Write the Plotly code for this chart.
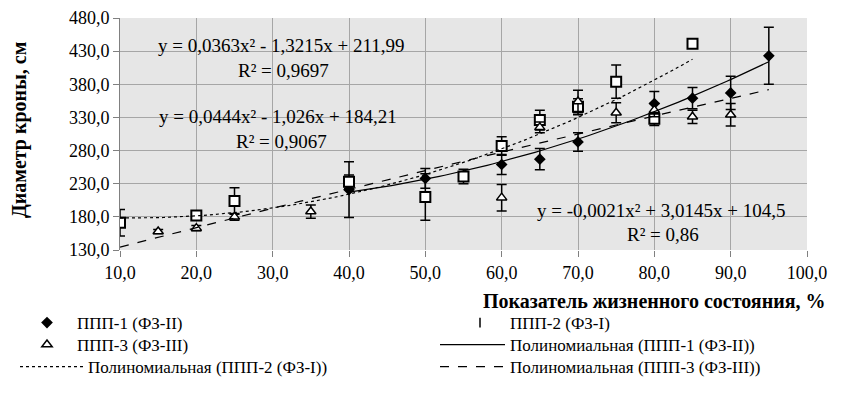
import numpy as np
import plotly.graph_objects as go

# ППП-1 (ФЗ-II) – diamonds
x1 = [40, 50, 60, 65, 70, 80, 85, 90, 95]
y1 = [221, 238, 259, 267, 293, 351, 359, 367, 423]
e1 = [42, 15, 15, 16, 14, 18, 16, 25, 43]

# ППП-2 (ФЗ-I) – squares
x2 = [10, 20, 25, 40, 50, 55, 60, 65, 70, 75, 80, 85]
y2 = [171, 182, 204, 233, 210, 241, 287, 326, 346, 384, 328, 441]
e2 = [20, 6, 20, 10, 35, 11, 14, 15, 12, 25, 10, 5]

# ППП-3 (ФЗ-III) – triangles
x3 = [15, 20, 25, 35, 60, 65, 70, 75, 80, 85, 90]
y3 = [158, 163, 180, 188, 209, 315, 354, 337, 341, 331, 334]
e3 = [3, 4, 5, 10, 20, 8, 17, 15, 10, 10, 17]

# trend-line coefficients as printed on the chart (a, b, c) and x-ranges
coef1 = [0.0363, -1.3215, 211.99]
coef2 = [0.0444, -1.026, 184.21]
coef3 = [-0.0021, 3.0145, 104.5]
range1 = [40, 95]
range2 = [10, 85]
range3 = [10, 95]

eq_texts = ["y = 0,0363x² - 1,3215x + 211,99", "R² = 0,9697",
            "y = 0,0444x² - 1,026x + 184,21", "R² = 0,9067",
            "y = -0,0021x² + 3,0145x + 104,5", "R² = 0,86"]

FONT = "Liberation Serif"

# page has an 8px body margin; figure sized to fit the 842x401 window
OFF = 8
W, H = 826, 385
PL, PT, PR, PB = 120, 18, 807, 250          # plot area in page pixels
L, T = PL - OFF, PT - OFF
R, B = W - (PR - OFF), H - (PB - OFF)
PW, PH = W - L - R, H - T - B

def page2paper(px, py):
    return (px - OFF - L) / PW, (H - B - (py - OFF)) / PH

def trend(coef, rng):
    xs = np.linspace(rng[0], rng[1], 80)
    return xs, np.polyval(coef, xs)

fig = go.Figure()

err = lambda e: dict(type="data", array=e, visible=True, color="black",
                     thickness=1.5, width=5)

fig.add_trace(go.Scatter(x=x1, y=y1, mode="markers", name="ППП-1 (ФЗ-II)", legend="legend",
                         marker=dict(symbol="diamond", size=9, color="black"),
                         error_y=err(e1)))
fig.add_trace(go.Scatter(x=x2, y=y2, mode="markers", name="ППП-2 (ФЗ-I)",
                         showlegend=False,
                         marker=dict(symbol="square", size=10, color="white",
                                     line=dict(color="black", width=2)),
                         error_y=err(e2)))
fig.add_trace(go.Scatter(x=[None], y=[None], mode="markers", name="ППП-2 (ФЗ-I)", legend="legend2",
                         marker=dict(symbol="line-ns-open", size=7, color="black",
                                     line=dict(color="black", width=1.5))))
fig.add_trace(go.Scatter(x=x3, y=y3, mode="markers", name="ППП-3 (ФЗ-III)", legend="legend3",
                         marker=dict(symbol="triangle-up", size=9, color="white",
                                     line=dict(color="black", width=1.5)),
                         error_y=err(e3)))

tx, ty = trend(coef1, range1)
fig.add_trace(go.Scatter(x=tx, y=ty, mode="lines", name="Полиномиальная (ППП-1 (ФЗ-II))",
                         legend="legend4",
                         line=dict(color="black", width=1.2, dash="solid")))
tx, ty = trend(coef2, range2)
fig.add_trace(go.Scatter(x=tx, y=ty, mode="lines", name="Полиномиальная (ППП-2 (ФЗ-I))",
                         legend="legend5",
                         line=dict(color="black", width=1.2, dash="dot")))
tx, ty = trend(coef3, range3)
fig.add_trace(go.Scatter(x=tx, y=ty, mode="lines", name="Полиномиальная (ППП-3 (ФЗ-III))",
                         legend="legend6",
                         line=dict(color="black", width=1.2, dash="dash")))

# equation annotations (positions in data coords)
eq_pos = [(31.2, 439), (31.4, 401), (30.7, 331), (31.2, 293), (80.9, 190), (81.1, 154)]
for t, (ax_, ay_) in zip(eq_texts, eq_pos):
    fig.add_annotation(x=ax_, y=ay_, xref="x", yref="y", text=t, showarrow=False,
                       font=dict(family=FONT, size=19, color="black"))

xa, ya = page2paper(828, 301)
fig.add_annotation(x=xa, y=ya, xref="paper", yref="paper",
                   text="<b>Показатель жизненного состояния, %</b>",
                   showarrow=False, xanchor="right", yanchor="middle",
                   font=dict(family=FONT, size=20, color="black"))
xa, ya = page2paper(20, 130)
fig.add_annotation(x=xa, y=ya, xref="paper", yref="paper", text="<b>Диаметр кроны, см</b>",
                   showarrow=False, textangle=-90, xanchor="center", yanchor="middle",
                   font=dict(family=FONT, size=20, color="black"))

# one single-entry legend per legend cell: (page x of legend, page y of row, item width)
leg_cells = {
    "legend":  (17, 323, 50),
    "legend2": (450, 323, 50),
    "legend3": (17, 345, 50),
    "legend4": (435, 345, 65),
    "legend5": (15, 367, 63),
    "legend6": (435, 367, 65),
}
legends = {}
for key, (px, py, iw) in leg_cells.items():
    lx, ly = page2paper(px, py)
    legends[key] = dict(x=lx, y=ly, xanchor="left", yanchor="middle", orientation="v",
                        itemwidth=iw, bgcolor="rgba(0,0,0,0)", borderwidth=0,
                        font=dict(family=FONT, size=17, color="black"))

fig.update_layout(
    width=W, height=H,
    margin=dict(l=L, r=R, t=T, b=B, autoexpand=False),
    paper_bgcolor="white",
    plot_bgcolor="#e6e6e6",
    separators=", ",
    font=dict(family=FONT, size=17, color="black"),
    xaxis=dict(range=[10, 100], dtick=10, tick0=10, tickformat=".1f",
               showgrid=True, gridcolor="#a6a6a6", gridwidth=1,
               zeroline=False, ticks="outside", ticklen=6, tickcolor="#808080",
               showline=False, tickfont=dict(family=FONT, size=18)),
    yaxis=dict(range=[130, 480], dtick=50, tick0=130, tickformat=".1f",
               showgrid=True, gridcolor="#a6a6a6", gridwidth=1,
               zeroline=False, ticks="outside", ticklen=6, tickcolor="#808080",
               showline=True, linecolor="#808080", linewidth=1,
               tickfont=dict(family=FONT, size=18)),
    showlegend=True,
    **legends,
)

fig.write_html("out.html")
